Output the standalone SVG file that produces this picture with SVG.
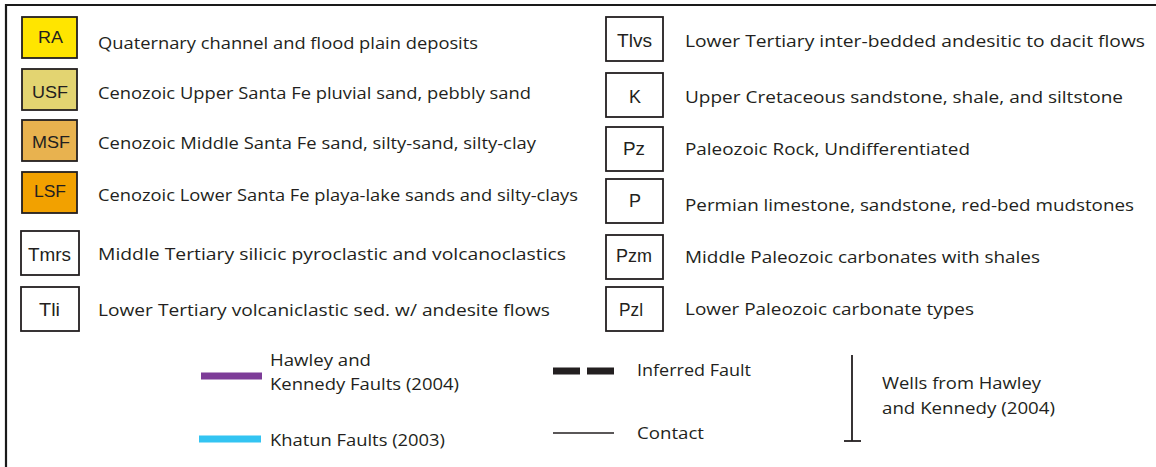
<svg xmlns="http://www.w3.org/2000/svg" width="1156" height="467" viewBox="0 0 1156 467">
<style>
.bg{fill:#ffffff}
.frame{fill:none;stroke:#1a1a1a;stroke-width:2.2}
.box{stroke:#231f20;stroke-width:1.8}
.code{font-family:"Liberation Sans",Arial,sans-serif;font-size:16px;fill:#231f20}
.code2{font-family:"Liberation Sans",Arial,sans-serif;font-size:19px;fill:#231f20}
.desc{font-family:"Open Sans","Noto Sans",sans-serif;font-size:17px;fill:#231f20}
</style>
<rect class="bg" x="0" y="0" width="1156" height="467"/>
<path class="frame" d="M6,467 V5 H1156"/>

<g id="ra"><rect class="box" x="22" y="17" width="55" height="41" fill="#ffe500"/><text class="code" x="38" y="43" textLength="25" lengthAdjust="spacingAndGlyphs">RA</text><text class="desc" x="98" y="49" textLength="380" lengthAdjust="spacingAndGlyphs">Quaternary channel and flood plain deposits</text></g>
<g id="usf"><rect class="box" x="22" y="69" width="55" height="41" fill="#e3d471"/><text class="code" x="32" y="98" textLength="36" lengthAdjust="spacingAndGlyphs">USF</text><text class="desc" x="98" y="99" textLength="433" lengthAdjust="spacingAndGlyphs">Cenozoic Upper Santa Fe pluvial sand, pebbly sand</text></g>
<g id="msf"><rect class="box" x="22" y="120" width="55" height="41" fill="#e8b24f"/><text class="code" x="32" y="148" textLength="38" lengthAdjust="spacingAndGlyphs">MSF</text><text class="desc" x="98" y="149" textLength="438" lengthAdjust="spacingAndGlyphs">Cenozoic Middle Santa Fe sand, silty-sand, silty-clay</text></g>
<g id="lsf"><rect class="box" x="22" y="172" width="55" height="41" fill="#f2a100"/><text class="code" x="34" y="197" textLength="32" lengthAdjust="spacingAndGlyphs">LSF</text><text class="desc" x="98" y="201" textLength="480" lengthAdjust="spacingAndGlyphs">Cenozoic Lower Santa Fe playa-lake sands and silty-clays</text></g>
<g id="tmrs"><rect class="box" x="21" y="231" width="58" height="44" fill="#ffffff"/><text class="code2" x="28" y="261" textLength="43" lengthAdjust="spacingAndGlyphs">Tmrs</text><text class="desc" x="98" y="260" textLength="468" lengthAdjust="spacingAndGlyphs">Middle Tertiary silicic pyroclastic and volcanoclastics</text></g>
<g id="tli"><rect class="box" x="21" y="287" width="58" height="44" fill="#ffffff"/><text class="code2" x="39" y="316" textLength="21" lengthAdjust="spacingAndGlyphs">Tli</text><text class="desc" x="98" y="316" textLength="452" lengthAdjust="spacingAndGlyphs">Lower Tertiary volcaniclastic sed. w/ andesite flows</text></g>

<g id="tlvs"><rect class="box" x="606" y="17" width="57" height="44" fill="#ffffff"/><text class="code2" x="617" y="47" textLength="35" lengthAdjust="spacingAndGlyphs">Tlvs</text><text class="desc" x="685" y="47" textLength="460" lengthAdjust="spacingAndGlyphs">Lower Tertiary inter-bedded andesitic to dacit flows</text></g>
<g id="k"><rect class="box" x="606" y="73" width="57" height="44" fill="#ffffff"/><text class="code2" x="629" y="103" textLength="12" lengthAdjust="spacingAndGlyphs">K</text><text class="desc" x="685" y="103" textLength="438" lengthAdjust="spacingAndGlyphs">Upper Cretaceous sandstone, shale, and siltstone</text></g>
<g id="pz"><rect class="box" x="606" y="127" width="57" height="44" fill="#ffffff"/><text class="code2" x="623" y="155" textLength="22" lengthAdjust="spacingAndGlyphs">Pz</text><text class="desc" x="685" y="155" textLength="285" lengthAdjust="spacingAndGlyphs">Paleozoic Rock, Undifferentiated</text></g>
<g id="p"><rect class="box" x="606" y="179" width="57" height="44" fill="#ffffff"/><text class="code2" x="629" y="207" textLength="12" lengthAdjust="spacingAndGlyphs">P</text><text class="desc" x="685" y="211" textLength="449" lengthAdjust="spacingAndGlyphs">Permian limestone, sandstone, red-bed mudstones</text></g>
<g id="pzm"><rect class="box" x="606" y="235" width="57" height="44" fill="#ffffff"/><text class="code2" x="616" y="262" textLength="36" lengthAdjust="spacingAndGlyphs">Pzm</text><text class="desc" x="685" y="263" textLength="355" lengthAdjust="spacingAndGlyphs">Middle Paleozoic carbonates with shales</text></g>
<g id="pzl"><rect class="box" x="606" y="287" width="57" height="44" fill="#ffffff"/><text class="code2" x="619" y="316" textLength="24" lengthAdjust="spacingAndGlyphs">Pzl</text><text class="desc" x="685" y="315" textLength="289" lengthAdjust="spacingAndGlyphs">Lower Paleozoic carbonate types</text></g>

<g id="connectors">
<line x1="201" y1="376" x2="262" y2="376" stroke="#7d3c98" stroke-width="7"/>
<line x1="199" y1="439" x2="261" y2="439" stroke="#33c4f2" stroke-width="7"/>
<line x1="553" y1="371" x2="614" y2="371" stroke="#231f20" stroke-width="7" stroke-dasharray="27,7"/>
<line x1="553" y1="433" x2="614" y2="433" stroke="#231f20" stroke-width="1.6"/>
<line x1="852" y1="355" x2="852" y2="441" stroke="#231f20" stroke-width="1.8"/>
<line x1="844" y1="441" x2="861" y2="441" stroke="#231f20" stroke-width="1.8"/>
</g>

<g id="legend-lines">
<text class="desc" x="270" y="366" textLength="101" lengthAdjust="spacingAndGlyphs">Hawley and</text>
<text class="desc" x="270" y="390" textLength="189" lengthAdjust="spacingAndGlyphs">Kennedy Faults (2004)</text>
<text class="desc" x="270" y="446" textLength="175" lengthAdjust="spacingAndGlyphs">Khatun Faults (2003)</text>
<text class="desc" x="637" y="376" textLength="114" lengthAdjust="spacingAndGlyphs">Inferred Fault</text>
<text class="desc" x="637" y="439" textLength="67" lengthAdjust="spacingAndGlyphs">Contact</text>
<text class="desc" x="882" y="389" textLength="159" lengthAdjust="spacingAndGlyphs">Wells from Hawley</text>
<text class="desc" x="882" y="414" textLength="173" lengthAdjust="spacingAndGlyphs">and Kennedy (2004)</text>
</g>
</svg>
